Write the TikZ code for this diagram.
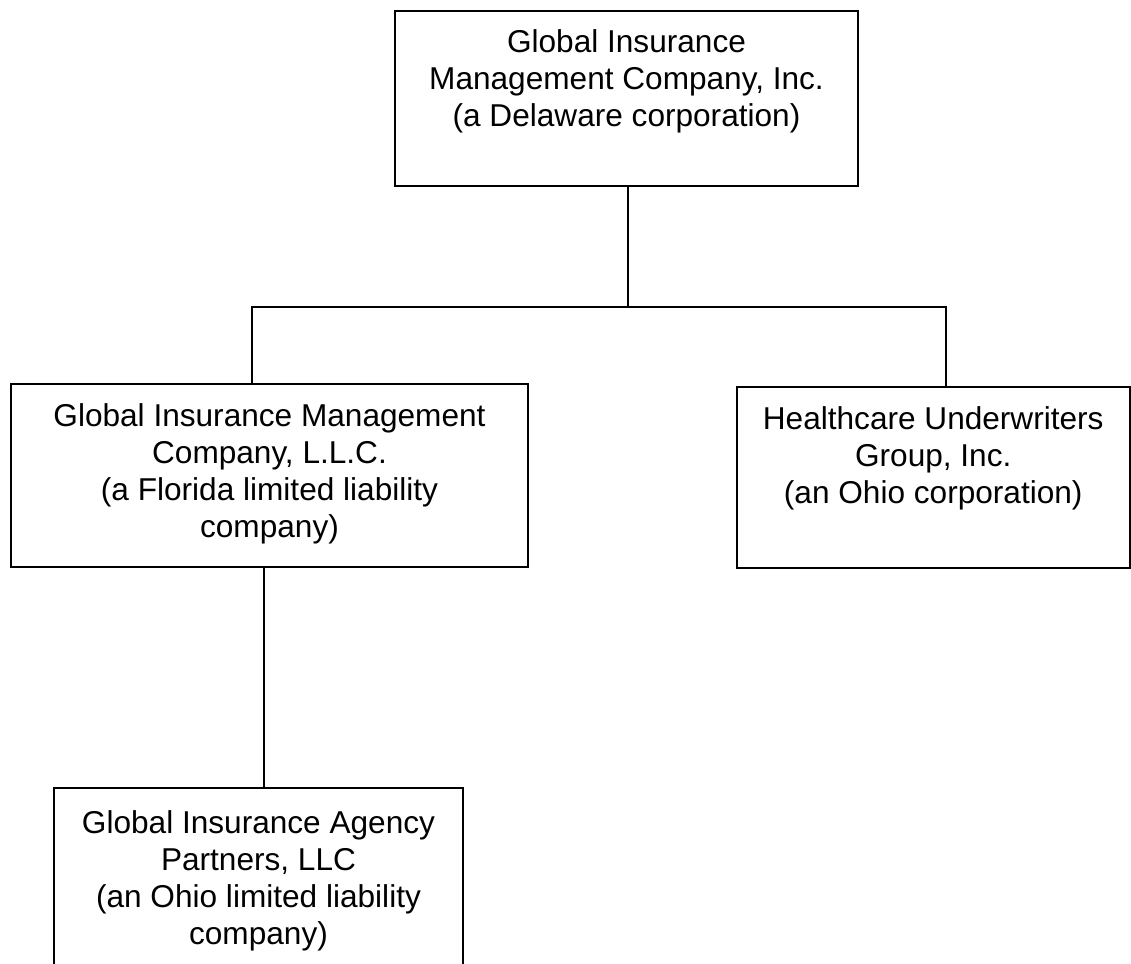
\documentclass[tikz,border=0pt]{standalone}
\usepackage{fontspec}
\setmainfont{Liberation Sans}
\usetikzlibrary{positioning}

\tikzset{
  entity/.style={draw, line width=1pt, inner sep=0pt},
  entitytext/.style={align=center, inner sep=0pt, font=\fontsize{15.8}{18.5}\selectfont},
  link/.style={line width=1pt}
}

\begin{document}
\begin{tikzpicture}[x=0.5pt, y=-0.5pt]
  \useasboundingbox (0,0) rectangle (1131,964);
  \clip (0,0) rectangle (1131,964);

  % boxes
  \node[entity, minimum width=231.5pt, minimum height=87.65pt] (gimc) at (626.5,98.35) {};
  \node[entity, minimum width=258.5pt, minimum height=91.5pt] (gimllc) at (269.5,475.5) {};
  \node[entity, minimum width=196.25pt, minimum height=90.5pt] (huw) at (933.25,477.5) {};
  \node[entity, minimum width=204.5pt, minimum height=101pt] (gia) at (258.5,889) {};

  % names
  \node[entitytext, below=10pt of gimc.north] (gimctext)
    {Global Insurance\\Management Company, Inc.\\(a Delaware corporation)};
  \node[entitytext, below=10pt of gimllc.north] (gimllctext)
    {Global Insurance Management\\Company, L.L.C.\\(a Florida limited liability\\company)};
  \node[entitytext, below=10pt of huw.north] (huwtext)
    {Healthcare Underwriters\\Group, Inc.\\(an Ohio corporation)};
  \node[entitytext, below=11.5pt of gia.north] (giatext)
    {Global Insurance Agency\\Partners, LLC\\(an Ohio limited liability\\company)};

  % ownership lines
  \coordinate (bar) at (628,307);
  \draw[link] ([xshift=0.75pt]gimc.south) -- (bar);
  \draw[link] ([xshift=-8.75pt]gimllc.north) |- (bar) -| ([xshift=6.5pt]huw.north);
  \draw[link] ([xshift=-2.75pt]gimllc.south) coordinate (drop) -- (drop |- gia.north);
\end{tikzpicture}
\end{document}
